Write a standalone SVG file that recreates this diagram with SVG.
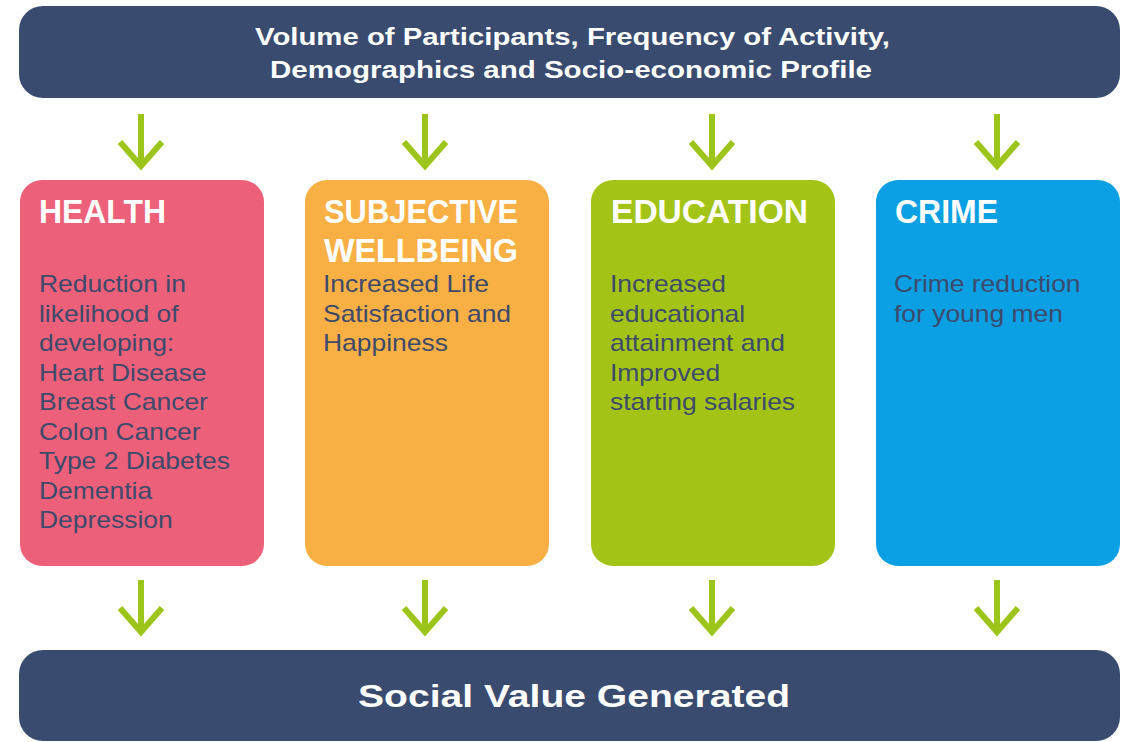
<svg xmlns="http://www.w3.org/2000/svg" width="1127" height="742" viewBox="0 0 1127 742">
<defs>
<style>
.bar{fill:#394b6f}
.bartxt{fill:#fff;font-family:"Liberation Sans",Arial,sans-serif;font-weight:bold;text-anchor:middle}
.ttl{fill:#fff;font-family:"Liberation Sans",Arial,sans-serif;font-weight:bold;font-size:34px}
.body{fill:#3d4a6c;font-family:"Liberation Sans",Arial,sans-serif;font-size:23px}
.arr{fill:none;stroke:#9dc41a;stroke-width:6}
</style>
<g id="arrow"><path class="arr" d="M0 0V50M-21 28L0 52L21 28"/></g>
</defs>
<rect width="1127" height="742" fill="#fff"/>
<g id="top">
<rect class="bar" x="19" y="6" width="1101" height="92" rx="24"/>
<text class="bartxt" x="572.5" y="45" font-size="24" textLength="635" lengthAdjust="spacingAndGlyphs">Volume of Participants, Frequency of Activity,</text>
<text class="bartxt" x="571" y="78" font-size="24" textLength="602" lengthAdjust="spacingAndGlyphs">Demographics and Socio-economic Profile</text>
</g>
<g id="connectors">
<use href="#arrow" x="141" y="114"/>
<use href="#arrow" x="425" y="114"/>
<use href="#arrow" x="712" y="114"/>
<use href="#arrow" x="997" y="114"/>
<use href="#arrow" x="141" y="580"/>
<use href="#arrow" x="425" y="580"/>
<use href="#arrow" x="712" y="580"/>
<use href="#arrow" x="997" y="580"/>
</g>
<g id="health">
<rect x="20" y="180" width="244" height="386" rx="22" fill="#ec6079"/>
<text class="ttl" x="39" y="223" textLength="127" lengthAdjust="spacingAndGlyphs">HEALTH</text>
<g transform="translate(39 0) scale(1.15 1)">
<text class="body" x="0" y="292">Reduction in</text>
<text class="body" x="0" y="322">likelihood of</text>
<text class="body" x="0" y="351">developing:</text>
<text class="body" x="0" y="381">Heart Disease</text>
<text class="body" x="0" y="410">Breast Cancer</text>
<text class="body" x="0" y="440">Colon Cancer</text>
<text class="body" x="0" y="469">Type 2 Diabetes</text>
<text class="body" x="0" y="499">Dementia</text>
<text class="body" x="0" y="528">Depression</text>
</g>
</g>
<g id="wellbeing">
<rect x="305" y="180" width="244" height="386" rx="22" fill="#f8b045"/>
<text class="ttl" x="324" y="223" textLength="194" lengthAdjust="spacingAndGlyphs">SUBJECTIVE</text>
<text class="ttl" x="324" y="262" textLength="194" lengthAdjust="spacingAndGlyphs">WELLBEING</text>
<g transform="translate(323 0) scale(1.15 1)">
<text class="body" x="0" y="292">Increased Life</text>
<text class="body" x="0" y="322">Satisfaction and</text>
<text class="body" x="0" y="351">Happiness</text>
</g>
</g>
<g id="education">
<rect x="591" y="180" width="244" height="386" rx="22" fill="#a3c417"/>
<text class="ttl" x="611" y="223" textLength="197" lengthAdjust="spacingAndGlyphs">EDUCATION</text>
<g transform="translate(610 0) scale(1.15 1)">
<text class="body" x="0" y="292">Increased</text>
<text class="body" x="0" y="322">educational</text>
<text class="body" x="0" y="351">attainment and</text>
<text class="body" x="0" y="381">Improved</text>
<text class="body" x="0" y="410">starting salaries</text>
</g>
</g>
<g id="crime">
<rect x="876" y="180" width="244" height="386" rx="22" fill="#0b9fe3"/>
<text class="ttl" x="895" y="223" textLength="103" lengthAdjust="spacingAndGlyphs">CRIME</text>
<g transform="translate(894 0) scale(1.15 1)">
<text class="body" x="0" y="292">Crime reduction</text>
<text class="body" x="0" y="322">for young men</text>
</g>
</g>
<g id="bottom">
<rect class="bar" x="19" y="650" width="1101" height="91" rx="24"/>
<text class="bartxt" x="574" y="707" font-size="32" textLength="432" lengthAdjust="spacingAndGlyphs">Social Value Generated</text>
</g>
</svg>
